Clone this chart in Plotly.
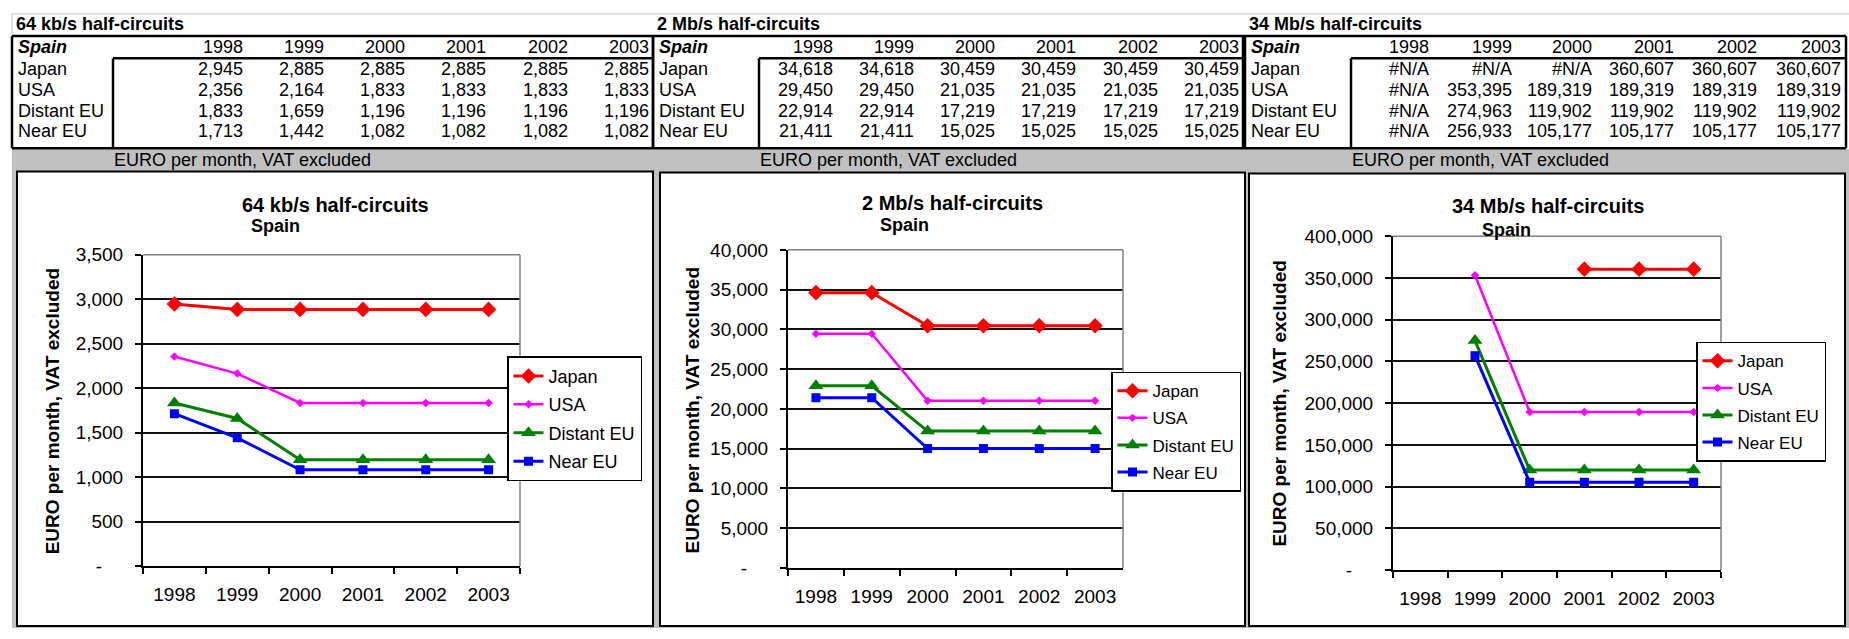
import plotly.graph_objects as go

W, H = 1849, 639
FONT = "Arial, 'Liberation Sans', sans-serif"

# ---------------------------------------------------------------- data
years = ["1998", "1999", "2000", "2001", "2002", "2003"]
regions = ["Japan", "USA", "Distant EU", "Near EU"]
country = "Spain"
unit_label = "EURO per month, VAT excluded"

kbps64_japan = [2945, 2885, 2885, 2885, 2885, 2885]
kbps64_usa = [2356, 2164, 1833, 1833, 1833, 1833]
kbps64_distant_eu = [1833, 1659, 1196, 1196, 1196, 1196]
kbps64_near_eu = [1713, 1442, 1082, 1082, 1082, 1082]

mbps2_japan = [34618, 34618, 30459, 30459, 30459, 30459]
mbps2_usa = [29450, 29450, 21035, 21035, 21035, 21035]
mbps2_distant_eu = [22914, 22914, 17219, 17219, 17219, 17219]
mbps2_near_eu = [21411, 21411, 15025, 15025, 15025, 15025]

mbps34_japan = [None, None, None, 360607, 360607, 360607]
mbps34_usa = [None, 353395, 189319, 189319, 189319, 189319]
mbps34_distant_eu = [None, 274963, 119902, 119902, 119902, 119902]
mbps34_near_eu = [None, 256933, 105177, 105177, 105177, 105177]

titles = ["64 kb/s half-circuits", "2 Mb/s half-circuits", "34 Mb/s half-circuits"]
series_sets = [
    [kbps64_japan, kbps64_usa, kbps64_distant_eu, kbps64_near_eu],
    [mbps2_japan, mbps2_usa, mbps2_distant_eu, mbps2_near_eu],
    [mbps34_japan, mbps34_usa, mbps34_distant_eu, mbps34_near_eu],
]
axis_max = [3500, 40000, 400000]
axis_step = [500, 5000, 50000]

# ---------------------------------------------------------------- styling / layout
series_style = {
    "Japan": dict(color="#FF0000", symbol="diamond", size=12, width=3),
    "USA": dict(color="#FF00FF", symbol="diamond", size=6.5, width=2.5),
    "Distant EU": dict(color="#008000", symbol="triangle-up", size=13, width=3),
    "Near EU": dict(color="#0000FF", symbol="square", size=9, width=3),
}

TABLE_FONT = 18
TICK_FONT = 19

panels = [
    dict(tbl=(12, 113, 653), cols=[245, 326, 407, 488, 570, 651],
         box=(17, 167, 653, 637), plot=(143, 253, 520, 575),
         legend=(507, 358), lfont=18, title_xy=(335, 202), spain_xy=(275, 223),
         ytitle_xy=(52, 415), band_x=242),
    dict(tbl=(653, 759, 1243), cols=[835, 916, 997, 1078, 1160, 1241],
         box=(660, 168, 1245, 637), plot=(788, 248, 1123, 577),
         legend=(1111, 374), lfont=17, title_xy=(953, 200), spain_xy=(904, 222),
         ytitle_xy=(692, 414), band_x=888),
    dict(tbl=(1245, 1351, 1846), cols=[1431, 1514, 1594, 1676, 1759, 1843],
         box=(1249, 169, 1845, 637), plot=(1393, 234, 1721, 579),
         legend=(1696, 343), lfont=17, title_xy=(1548, 203), spain_xy=(1506, 227),
         ytitle_xy=(1280, 407), band_x=1480),
]

ROW_Y = [61, 83, 104, 125]
HEAD_Y = 38
TITLE_Y = 14
HEAD_TOP, DATA_TOP, TABLE_BOTTOM = 27, 50, 143
BAND_Y = 155


def fx(p):
    return p / W


def fy(p):
    return 1 - p / H


def cell_text(v):
    return "#N/A" if v is None else f"{v:,}"


def tick_text(v):
    return "-\u00a0\u00a0\u00a0\u00a0" if v == 0 else f"{v:,}"


fig = go.Figure()
shapes = []
annotations = []


def ann(text, x, y, size, bold=False, italic=False, xanchor="center", angle=0):
    t = text
    if bold:
        t = f"<b>{t}</b>"
    if italic:
        t = f"<i>{t}</i>"
    annotations.append(dict(
        text=t, x=fx(x), y=fy(y), xref="paper", yref="paper",
        xanchor=xanchor, yanchor="middle", showarrow=False, textangle=angle,
        font=dict(family=FONT, size=size, color="black")))


def hline(x0, x1, y, color="black", width=2.5, layer="below"):
    shapes.append(dict(type="line", xref="paper", yref="paper", x0=fx(x0), x1=fx(x1),
                       y0=fy(y), y1=fy(y), line=dict(color=color, width=width), layer=layer))


def vline(x, y0, y1, color="black", width=2.5, layer="below"):
    shapes.append(dict(type="line", xref="paper", yref="paper", x0=fx(x), x1=fx(x),
                       y0=fy(y0), y1=fy(y1), line=dict(color=color, width=width), layer=layer))


# sheet background below the tables
shapes.append(dict(type="rect", xref="paper", yref="paper", x0=fx(12), x1=1,
                   y0=0, y1=fy(TABLE_BOTTOM + 1), fillcolor="#C0C0C0",
                   line=dict(width=0), layer="below"))
hline(12, W, 4, color="#C8C8C8", width=1)
vline(12, 4, HEAD_TOP, color="#C8C8C8", width=1)
hline(12, 1846, HEAD_TOP)
hline(12, 1846, TABLE_BOTTOM)

for i, p in enumerate(panels):
    idx = "" if i == 0 else str(i + 1)
    left, box_left, right = p["tbl"]

    # ---- table
    vline(left, HEAD_TOP, TABLE_BOTTOM)
    vline(right, HEAD_TOP, TABLE_BOTTOM)
    vline(box_left, DATA_TOP, TABLE_BOTTOM)
    hline(box_left, right, DATA_TOP)
    ann(titles[i], left + 2, TITLE_Y, TABLE_FONT, bold=True, xanchor="left")
    ann(country, left + 4, HEAD_Y, TABLE_FONT, bold=True, italic=True, xanchor="left")
    for yr, cx in zip(years, p["cols"]):
        ann(yr, cx, HEAD_Y, TABLE_FONT, xanchor="right")
    for r, (name, vals) in enumerate(zip(regions, series_sets[i])):
        ann(name, left + 4, ROW_Y[r], TABLE_FONT, xanchor="left")
        for v, cx in zip(vals, p["cols"]):
            ann(cell_text(v), cx, ROW_Y[r], TABLE_FONT, xanchor="right")
    ann(unit_label, p["band_x"], BAND_Y, TABLE_FONT)

    # ---- chart frame
    bx0, by0, bx1, by1 = p["box"]
    shapes.append(dict(type="rect", xref="paper", yref="paper", x0=fx(bx0), x1=fx(bx1),
                       y0=fy(by1), y1=fy(by0), fillcolor="white",
                       line=dict(color="black", width=2), layer="below"))
    ann(titles[i], *p["title_xy"], 20, bold=True)
    ann(country, *p["spain_xy"], 18, bold=True)
    ann(unit_label, *p["ytitle_xy"], 19, bold=True, angle=-90)

    # ---- chart traces
    leg = "legend" + idx
    for name, vals in zip(regions, series_sets[i]):
        st = series_style[name]
        fig.add_trace(go.Scatter(
            x=years, y=vals, name=name, mode="lines+markers",
            xaxis="x" + idx, yaxis="y" + idx, legend=leg, legendgroup=name + idx,
            line=dict(color=st["color"], width=st["width"]),
            marker=dict(symbol=st["symbol"], size=st["size"], color=st["color"],
                        line=dict(width=0)),
            connectgaps=False, hoverinfo="x+y+name"))

    px0, py0, px1, py1 = p["plot"]
    tickvals = list(range(0, axis_max[i] + 1, axis_step[i]))
    fig.update_layout({
        "xaxis" + idx: dict(
            domain=[fx(px0), fx(px1)], anchor="y" + idx, type="category",
            range=[-0.5, 5.5], tickson="boundaries", ticks="outside", ticklen=6,
            tickwidth=1.5, tickcolor="black", showline=True, linecolor="black",
            linewidth=2, showgrid=False, zeroline=False, ticklabelstandoff=10,
            tickfont=dict(family=FONT, size=TICK_FONT, color="black"), fixedrange=True),
        "yaxis" + idx: dict(
            domain=[fy(py1), fy(py0)], anchor="x" + idx, range=[0, axis_max[i]],
            tickvals=tickvals, ticktext=[tick_text(v) for v in tickvals],
            ticks="outside", ticklen=6, tickwidth=1.5, tickcolor="black",
            showline=True, linecolor="black", linewidth=2, showgrid=True,
            gridcolor="#111111", gridwidth=1.5, zeroline=False, ticklabelstandoff=8,
            tickfont=dict(family=FONT, size=TICK_FONT, color="black"), fixedrange=True),
        leg: dict(
            x=fx(p["legend"][0]), y=fy(p["legend"][1]), xanchor="left", yanchor="top",
            bgcolor="white", bordercolor="black", borderwidth=1.5,
            traceorder="grouped", tracegroupgap=2,
            font=dict(family=FONT, size=p["lfont"], color="black")),
    })
    # grey top and right edges of the plot area
    for (x0, y0, x1, y1) in [(0, 1, 1, 1), (1, 0, 1, 1)]:
        shapes.append(dict(type="line", xref="x" + idx + " domain", yref="y" + idx + " domain",
                           x0=x0, y0=y0, x1=x1, y1=y1,
                           line=dict(color="#808080", width=1.5), layer="above"))

fig.update_layout(
    width=W, height=H, margin=dict(l=0, r=0, t=0, b=0, pad=0),
    paper_bgcolor="white", plot_bgcolor="#FFFFCC",
    showlegend=True, shapes=shapes, annotations=annotations,
    font=dict(family=FONT, color="black"),
)

fig.write_html("out.html", config={"displayModeBar": False})
